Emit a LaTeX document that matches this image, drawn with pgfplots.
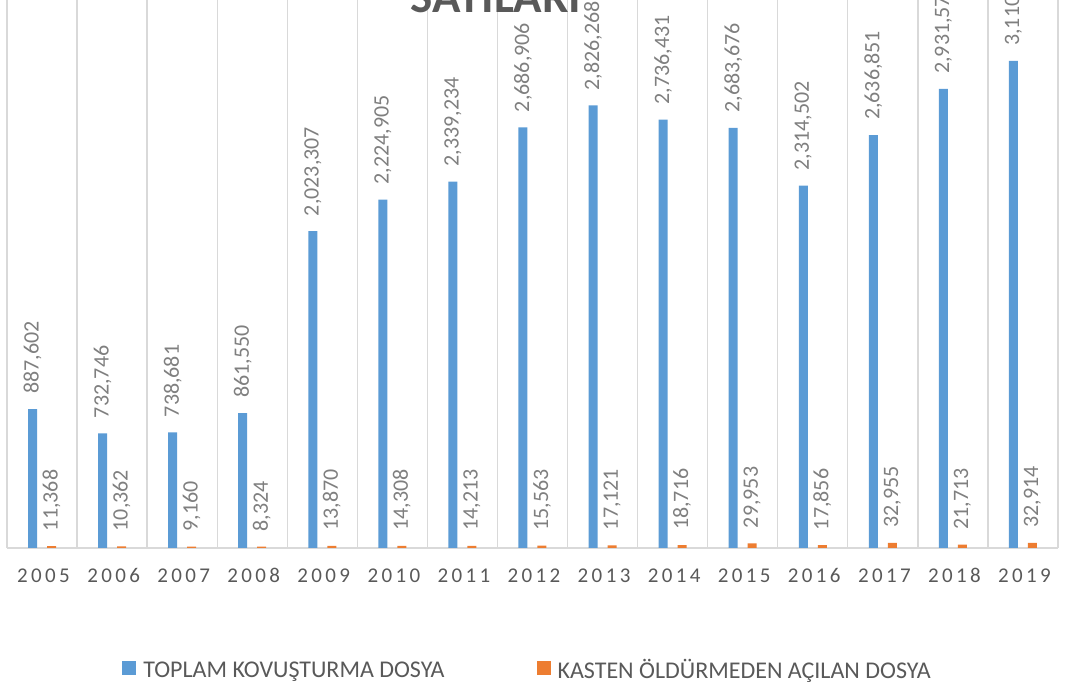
\documentclass[border=0pt]{standalone}
\usepackage{pgfplots}
\usepackage{pgfplotstable}
\pgfplotsset{compat=1.18}
\usepackage{fontspec}
\setmainfont{Carlito}
\newfontfamily\yearfont[LetterSpace=16]{Carlito}
\definecolor{cblue}{HTML}{5B9BD5}
\definecolor{corange}{HTML}{ED7D31}
\definecolor{gridc}{HTML}{D9D9D9}
\definecolor{txt}{HTML}{595959}
\definecolor{lbl}{HTML}{7F7F7F}
\pgfplotstableread{
x y lab
0 887602 887,602
1 732746 732,746
2 738681 738,681
3 861550 861,550
4 2023307 2,023,307
5 2224905 2,224,905
6 2339234 2,339,234
7 2686906 2,686,906
8 2826268 2,826,268
9 2736431 2,736,431
10 2683676 2,683,676
11 2314502 2,314,502
12 2636851 2,636,851
13 2931574 2,931,574
14 3110372 3,110,372
}\totaltab
\pgfplotstableread{
x y lab
0 11368 11,368
1 10362 10,362
2 9160 9,160
3 8324 8,324
4 13870 13,870
5 14308 14,308
6 14213 14,213
7 15563 15,563
8 17121 17,121
9 18716 18,716
10 29953 29,953
11 17856 17,856
12 32955 32,955
13 21713 21,713
14 32914 32,914
}\kastentab
\begin{document}
\begin{tikzpicture}
\useasboundingbox (0,0) rectangle (1081pt,690pt);
\begin{axis}[
  at={(7pt,142pt)}, anchor=south west,
  width=1051pt, height=548pt, scale only axis,
  xmin=-0.5, xmax=14.5, ymin=0, ymax=3500000,
  ybar=10pt, bar width=9pt,
  axis line style={draw=none},
  xtick={0,...,14},
  xticklabels={2005,2006,2007,2008,2009,2010,2011,2012,2013,2014,2015,2016,2017,2018,2019},
  major tick length=0pt, minor tick length=0pt,
  xticklabel style={font=\yearfont\fontsize{21}{21}\selectfont, text=txt, anchor=base, yshift=-35pt, xshift=1.5pt},
  minor xtick={-0.5,0.5,...,14.5},
  xminorgrids=true,
  minor grid style={gridc, line width=1.3pt},
  ytick=\empty,
  extra y ticks={0}, extra y tick labels={},
  extra y tick style={grid=major, major grid style={gridc, line width=1.3pt}},
  point meta=explicit symbolic,
  nodes near coords,
  nodes near coords style={rotate=90, anchor=west, inner xsep=15pt, font=\fontsize{22}{22}\selectfont, text=lbl},
  legend style={at={(0.5,-0.2226)}, anchor=center, xshift=-5pt, draw=none, fill=none,
    legend columns=2, font=\fontsize{24}{24}\selectfont, text=txt,
    /tikz/every even column/.append style={column sep=90pt}},
  legend image code/.code={\fill[#1] (0pt,-5pt) rectangle (14pt,9pt); \path (19pt,0pt);},
]
\addplot[fill=cblue, draw=none] table[x=x, y=y, meta=lab] {\totaltab};
\addplot[fill=corange, draw=none] table[x=x, y=y, meta=lab] {\kastentab};
\legend{TOPLAM KOVUŞTURMA DOSYA, KASTEN ÖLDÜRMEDEN AÇILAN DOSYA}
\end{axis}
\node[font=\bfseries\fontsize{47}{47}\selectfont, text=txt, anchor=base] at (496pt,677pt) {SAYILARI};
\end{tikzpicture}
\end{document}
